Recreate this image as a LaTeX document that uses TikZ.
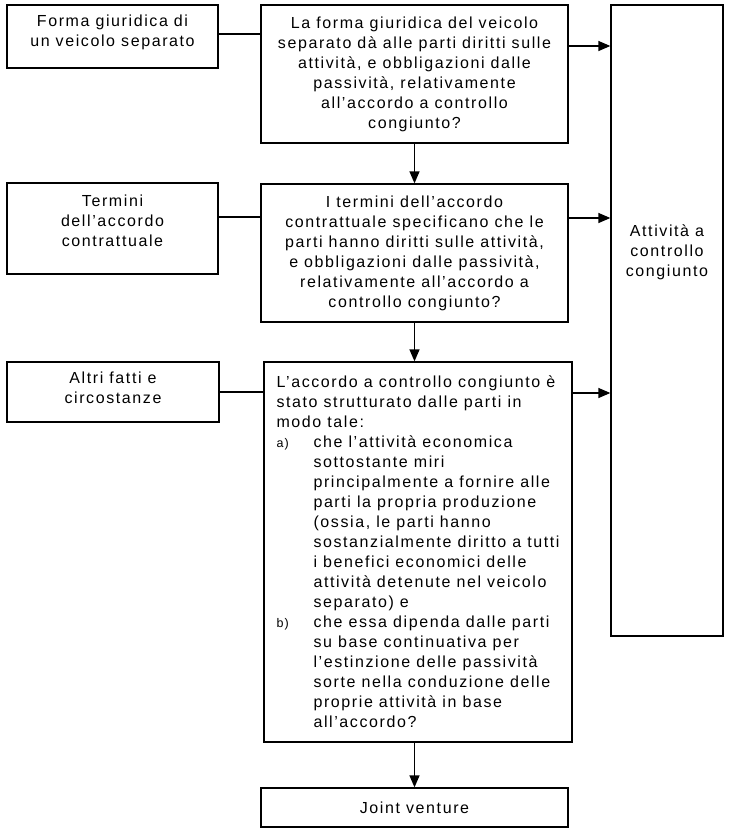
\documentclass[tikz,border=0pt]{standalone}
\usepackage{fontspec}
\setmainfont{Liberation Sans}[LetterSpace=10]
\usetikzlibrary{arrows.meta}
\tikzstyle{line} = [draw, line width=1.3pt]
\tikzstyle{arr} = [draw, line width=1.3pt, -{Triangle[length=12pt,width=10pt]}]
\newcommand{\itm}[1]{\makebox[37pt][l]{\fontsize{12.5}{20}\selectfont #1}}
\newcommand{\ind}{\hspace*{37pt}}

\begin{document}
\begin{tikzpicture}[x=1pt, y=-1pt,
		box/.style={draw, line width=1.3pt, inner sep=0pt, align=center, font=\fontsize{16}{20}\selectfont},
		side/.style={box, minimum width=211pt},
		mid/.style={box, minimum width=307pt}]
	\useasboundingbox (0,0) rectangle (729,833);
	%Kästen links
	\node[side, minimum height=63pt, text depth=12.2pt] (veicolo) at (112.5,36.5) {Forma giuridica di\\un veicolo separato};
	\node[side, minimum height=91pt, text depth=14.7pt] (termini) at (112.5,228.5) {Termini\\dell'accordo\\contrattuale};
	\node[side, minimum width=212pt, minimum height=60pt, text depth=9.1pt] (altri) at (113,392) {Altri fatti e\\circostanze};
	%Fragen
	\node[mid, minimum height=138pt] (forma) at (414.5,74) {La forma giuridica del veicolo\\separato dà alle parti diritti sulle\\attività, e obbligazioni dalle\\passività, relativamente\\all'accordo a controllo\\congiunto?};
	\node[mid, minimum height=138pt] (accordo) at (414.5,253) {I termini dell'accordo\\contrattuale specificano che le\\parti hanno diritti sulle attività,\\e obbligazioni dalle passività,\\relativamente all'accordo a\\controllo congiunto?};
	\node[box, align=left, minimum width=308pt, minimum height=380pt] (fatti) at (418,552) {L'accordo a controllo congiunto è\\stato strutturato dalle parti in\\modo tale:\\
		\itm{a)}che l'attività economica\\ \ind sottostante miri\\ \ind principalmente a fornire alle\\ \ind parti la propria produzione\\ \ind (ossia, le parti hanno\\ \ind sostanzialmente diritto a tutti\\ \ind i benefici economici delle\\ \ind attività detenute nel veicolo\\ \ind separato) e\\
		\itm{b)}che essa dipenda dalle parti\\ \ind su base continuativa per\\ \ind l'estinzione delle passività\\ \ind sorte nella conduzione delle\\ \ind proprie attività in base\\ \ind all'accordo?};
	%Ergebnisse
	\node[box, minimum width=112pt, minimum height=631pt, text depth=140.7pt] (attivita) at (667,320.5) {Attività a\\controllo\\congiunto};
	\node[mid, minimum height=39pt] (jv) at (414.5,807.5) {Joint venture};
	%Verbindungen
	\draw[line] ([yshift=2.5pt]veicolo.east) -- ([yshift=2.5pt]veicolo.east -| forma.west);
	\draw[line] ([yshift=11.5pt]termini.east) -- ([yshift=11.5pt]termini.east -| accordo.west);
	\draw[line] (altri.east) -- (altri.east -| fatti.west);
	\draw[arr] ([yshift=28pt]forma.east) -- ([yshift=28pt]forma.east -| attivita.west);
	\draw[arr] ([yshift=35pt]accordo.east) -- ([yshift=35pt]accordo.east -| attivita.west);
	\draw[arr] ([yshift=159pt]fatti.east) -- ([yshift=159pt]fatti.east -| attivita.west);
	\draw[arr] (forma.south) -- (accordo.north);
	\draw[arr] (accordo.south) -- (accordo.south |- fatti.north);
	\draw[arr] (jv.north |- fatti.south) -- (jv.north);
\end{tikzpicture}
\end{document}
